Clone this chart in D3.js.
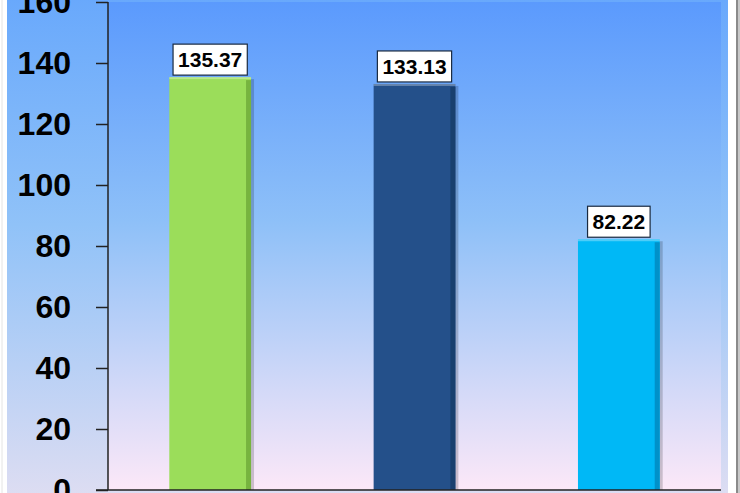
<!DOCTYPE html>
<html><head><meta charset="utf-8">
<script src="https://cdn.jsdelivr.net/npm/d3@7"></script>
<style>html,body{margin:0;padding:0;background:#fff;overflow:hidden}</style>
</head><body>
<svg id="c" width="740" height="493"></svg>
<script>
const categories = ["A", "B", "C"];
const values = [135.37, 133.13, 82.22];
const labels = ["135.37", "133.13", "82.22"];
const yTicks = [0, 20, 40, 60, 80, 100, 120, 140, 160];
const barColors = ["#9BDD5A", "#24508A", "#00B8F6"];
const edgeColors = ["#77B43F", "#19406E", "#0091C9"];

const svg = d3.select("#c");
const defs = svg.append("defs");
const g1 = defs.append("linearGradient").attr("id","outer").attr("x1",0).attr("y1",0).attr("x2",0).attr("y2",1);
g1.append("stop").attr("offset","0%").attr("stop-color","#68A8FC");
g1.append("stop").attr("offset","45%").attr("stop-color","#90C2F8");
g1.append("stop").attr("offset","100%").attr("stop-color","#E0DEF2");
const g2 = defs.append("linearGradient").attr("id","inner").attr("x1",0).attr("y1",0).attr("x2",0).attr("y2",1);
g2.append("stop").attr("offset","0%").attr("stop-color","#5B9AFD");
g2.append("stop").attr("offset","45%").attr("stop-color","#8EC0F8");
g2.append("stop").attr("offset","100%").attr("stop-color","#FCE8F8");

// frame
svg.append("rect").attr("x",0).attr("y",0).attr("width",740).attr("height",493).attr("fill","#fff");
svg.append("line").attr("x1",2).attr("x2",2).attr("y1",0).attr("y2",493).attr("stroke","#e4e4e4");
svg.append("rect").attr("x",7).attr("y",-5).attr("width",721).attr("height",510).attr("fill","url(#outer)");
svg.append("rect").attr("x",736).attr("y",0).attr("width",2).attr("height",493).attr("fill","#8a8a8a");
svg.append("rect").attr("x",738).attr("y",0).attr("width",2).attr("height",493).attr("fill","#c8c8c8");

const pL = 108, pR = 721, pT = 2, pB = 490;
svg.append("rect").attr("x",pL).attr("y",pT).attr("width",pR-pL).attr("height",pB-pT).attr("fill","url(#inner)");

const y = d3.scaleLinear().domain([0,160]).range([pB, pT]);
const x = d3.scaleBand().domain(categories).range([pL, pR]).paddingInner(0.6).paddingOuter(0.3);

// bars
const bars = svg.append("g").selectAll("g").data(values).join("g");
const bw = x.bandwidth();
bars.append("rect").attr("x",(d,i)=>x(categories[i])+3).attr("y",d=>y(d)+2)
  .attr("width",bw).attr("height",d=>pB-y(d)-2).attr("fill","rgba(0,0,0,0.18)");
bars.append("rect").attr("x",(d,i)=>x(categories[i])).attr("y",d=>y(d))
  .attr("width",bw).attr("height",d=>pB-y(d)).attr("fill",(d,i)=>barColors[i]);
bars.append("rect").attr("x",(d,i)=>x(categories[i])+bw-5).attr("y",d=>y(d)+3)
  .attr("width",5).attr("height",d=>pB-y(d)-3).attr("fill",(d,i)=>edgeColors[i]);
bars.append("rect").attr("x",(d,i)=>x(categories[i])).attr("y",d=>y(d))
  .attr("width",bw).attr("height",2).attr("fill","rgba(255,255,255,0.3)");

// labels
const lab = svg.append("g").selectAll("g").data(values).join("g")
  .attr("transform",(d,i)=>`translate(${x(categories[i])+bw/2},${y(d)-18})`);
lab.each(function(d,i){
  const gg = d3.select(this);
  const t = gg.append("text").attr("text-anchor","middle").attr("dy","0.36em")
    .attr("font-family","Liberation Sans, Arial, sans-serif").attr("font-weight","bold")
    .attr("font-size",21).attr("fill","#000").text(labels[i]);
  const w = t.node().getComputedTextLength();
  gg.insert("rect","text").attr("x",-w/2-5).attr("y",-15).attr("width",w+10).attr("height",31)
    .attr("fill","#fff").attr("stroke","#1a2a40").attr("stroke-width",1.2);
});

// y axis
const ax = svg.append("g").attr("transform",`translate(${pL},0)`)
  .call(d3.axisLeft(y).tickValues(yTicks).tickSize(12).tickPadding(25).tickFormat(d3.format("d")));
ax.select(".domain").attr("stroke","#222").attr("stroke-width",1.5).attr("d",`M0,${pT}V${pB}`);
ax.selectAll(".tick line").attr("stroke","#222").attr("stroke-width",1.5);
ax.selectAll(".tick text").attr("font-family","Liberation Sans, Arial, sans-serif")
  .attr("font-weight","bold").attr("font-size",32).attr("fill","#000");
// x axis baseline
svg.append("line").attr("x1",96).attr("x2",pR).attr("y1",pB).attr("y2",pB)
  .attr("stroke","#222").attr("stroke-width",1.5);
</script>
</body></html>
